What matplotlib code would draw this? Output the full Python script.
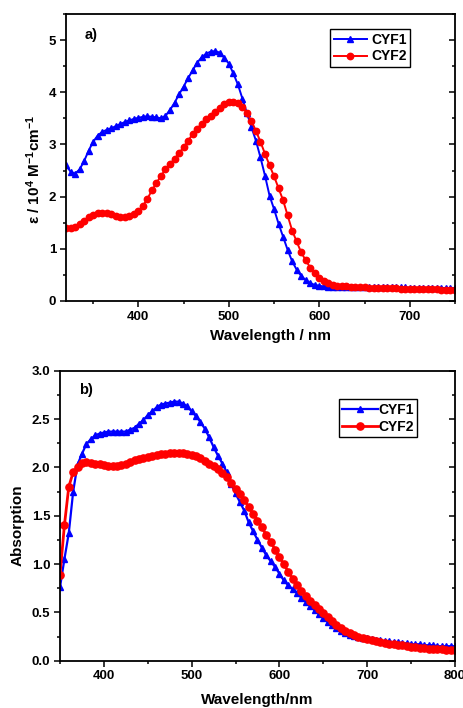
import matplotlib
matplotlib.use("Agg")
import matplotlib.pyplot as plt
from matplotlib.ticker import MultipleLocator, FormatStrFormatter

plt.rcParams["font.family"] = ["Liberation Sans", "DejaVu Sans"]
plt.rcParams["font.weight"] = "bold"
plt.rcParams["mathtext.fontset"] = "custom"
plt.rcParams["mathtext.bf"] = "Liberation Sans:bold"
plt.rcParams["mathtext.rm"] = "Liberation Sans:bold"
plt.rcParams["mathtext.default"] = "bf"

# --------------------------------------------------
#  a) molar absorptivity, 320-750 nm every 5 nm
# --------------------------------------------------
wl_a = list(range(320, 751, 5))

cyf1_a = [
    2.60, 2.48, 2.44, 2.52, 2.68, 2.88, 3.05, 3.17, 3.24, 3.28,
    3.31, 3.35, 3.39, 3.43, 3.46, 3.49, 3.51, 3.53, 3.54, 3.53,
    3.52, 3.50, 3.55, 3.66, 3.80, 3.96, 4.11, 4.27, 4.42, 4.57,
    4.67, 4.74, 4.78, 4.79, 4.76, 4.66, 4.55, 4.36, 4.15, 3.88,
    3.60, 3.33, 3.07, 2.75, 2.40, 2.02, 1.76, 1.48, 1.23, 0.98,
    0.76, 0.60, 0.48, 0.40, 0.34, 0.31, 0.29, 0.28, 0.27, 0.27,
    0.27, 0.27, 0.27, 0.27, 0.27, 0.27, 0.26, 0.26, 0.26, 0.26,
    0.26, 0.26, 0.26, 0.26, 0.26, 0.26, 0.25, 0.25, 0.25, 0.25,
    0.25, 0.25, 0.25, 0.25, 0.25, 0.25, 0.25,
]

cyf2_a = [
    1.39, 1.40, 1.42, 1.47, 1.53, 1.60, 1.65, 1.68, 1.69, 1.68,
    1.66, 1.63, 1.61, 1.60, 1.62, 1.66, 1.72, 1.82, 1.96, 2.12,
    2.26, 2.40, 2.52, 2.62, 2.73, 2.83, 2.95, 3.07, 3.20, 3.30,
    3.40, 3.48, 3.55, 3.63, 3.70, 3.77, 3.81, 3.82, 3.79, 3.72,
    3.60, 3.45, 3.26, 3.05, 2.82, 2.60, 2.39, 2.16, 1.93, 1.64,
    1.35, 1.14, 0.93, 0.78, 0.64, 0.53, 0.44, 0.38, 0.34, 0.31,
    0.29, 0.28, 0.28, 0.27, 0.27, 0.26, 0.26, 0.25, 0.25, 0.25,
    0.24, 0.24, 0.24, 0.24, 0.23, 0.23, 0.23, 0.23, 0.22, 0.22,
    0.22, 0.22, 0.22, 0.21, 0.21, 0.21, 0.21,
]

# --------------------------------------------------
#  b) absorption, 350-800 nm every 5 nm
# --------------------------------------------------
wl_b = list(range(350, 801, 5))

cyf1_b = [
    0.76, 1.05, 1.32, 1.75, 2.03, 2.14, 2.24, 2.29, 2.33, 2.35,
    2.36, 2.37, 2.37, 2.37, 2.37, 2.37, 2.39, 2.41, 2.45, 2.49,
    2.54, 2.58, 2.62, 2.65, 2.66, 2.67, 2.68, 2.68, 2.66, 2.63,
    2.58, 2.53, 2.47, 2.40, 2.31, 2.21, 2.12, 2.04, 1.95, 1.83,
    1.73, 1.64, 1.55, 1.43, 1.34, 1.25, 1.17, 1.09, 1.03, 0.97,
    0.90, 0.83, 0.78, 0.74, 0.70, 0.65, 0.61, 0.57, 0.52, 0.48,
    0.44, 0.40, 0.37, 0.34, 0.31, 0.29, 0.27, 0.26, 0.25, 0.24,
    0.23, 0.22, 0.21, 0.21, 0.20, 0.20, 0.19, 0.19, 0.18, 0.18,
    0.17, 0.17, 0.17, 0.16, 0.16, 0.16, 0.15, 0.15, 0.15, 0.15,
    0.15,
]

cyf2_b = [
    0.89, 1.40, 1.80, 1.95, 2.00, 2.05, 2.06, 2.05, 2.04, 2.03,
    2.02, 2.01, 2.01, 2.01, 2.02, 2.04, 2.06, 2.08, 2.09, 2.10,
    2.11, 2.12, 2.13, 2.14, 2.14, 2.15, 2.15, 2.15, 2.15, 2.14,
    2.13, 2.12, 2.10, 2.07, 2.04, 2.01, 1.98, 1.94, 1.90, 1.84,
    1.78, 1.72, 1.66, 1.59, 1.52, 1.45, 1.38, 1.30, 1.23, 1.15,
    1.07, 1.00, 0.92, 0.85, 0.78, 0.72, 0.67, 0.62, 0.58, 0.53,
    0.49, 0.45, 0.41, 0.37, 0.34, 0.31, 0.29, 0.27, 0.25, 0.23,
    0.22, 0.21, 0.20, 0.19, 0.18, 0.17, 0.17, 0.16, 0.16, 0.15,
    0.14, 0.14, 0.13, 0.13, 0.12, 0.12, 0.12, 0.12, 0.11, 0.11,
    0.11,
]

BLUE = "#0000ff"
RED = "#ff0000"


def style_axes(ax):
    for sp in ax.spines.values():
        sp.set_linewidth(1.3)
    ax.tick_params(which="both", direction="out", labelsize=9.5, width=1.1, pad=3)
    ax.tick_params(which="major", length=4)
    ax.tick_params(which="minor", length=2.5)
    ax.tick_params(which="both", right=True)
    # right side ticks point inward, no labels
    for t in ax.yaxis.get_major_ticks() + ax.yaxis.get_minor_ticks():
        t.tick2line.set_marker(matplotlib.lines.TICKLEFT)
    for lab in ax.get_xticklabels() + ax.get_yticklabels():
        lab.set_fontweight("bold")


fig = plt.figure(figsize=(4.63, 7.08), dpi=100)

# ----- panel a -----
ax1 = fig.add_axes([0.1425, 0.5749, 0.8402, 0.4053])
ax1.plot(wl_a, cyf1_a, color=BLUE, marker="^", markersize=4.2, linewidth=1.4, label="CYF1")
ax1.plot(wl_a, cyf2_a, color=RED, marker="o", markersize=4.6, linewidth=1.4, label="CYF2")
ax1.set_xlim(320, 750)
ax1.set_ylim(0, 5.5)
ax1.xaxis.set_major_locator(MultipleLocator(100))
ax1.xaxis.set_minor_locator(MultipleLocator(50))
ax1.yaxis.set_major_locator(MultipleLocator(1))
ax1.yaxis.set_minor_locator(MultipleLocator(0.5))
ax1.yaxis.set_major_formatter(FormatStrFormatter("%d"))
style_axes(ax1)
ax1.set_xlabel("Wavelength / nm", fontsize=11, fontweight="bold")
ax1.set_ylabel(r"ε / 10$^{4}$ M$^{-1}$cm$^{-1}$", fontsize=11, fontweight="bold")
ax1.xaxis.set_label_coords(0.526, -0.098)
ax1.yaxis.set_label_coords(-0.058, 0.46)
ax1.text(0.049, 0.927, "a)", transform=ax1.transAxes, fontsize=10.5,
         fontweight="bold", ha="left", va="center")
leg1 = ax1.legend(loc="upper left", bbox_to_anchor=(0.679, 0.947), fontsize=10,
                  frameon=True, fancybox=False, edgecolor="black", framealpha=1,
                  handlelength=2.4, handletextpad=0.3, borderpad=0.25,
                  labelspacing=0.2, borderaxespad=0, markerscale=1.0)
leg1.get_frame().set_linewidth(1.0)
for t in leg1.get_texts():
    t.set_fontweight("bold")

# ----- panel b -----
ax2 = fig.add_axes([0.1296, 0.0668, 0.8531, 0.4096])
ax2.plot(wl_b, cyf1_b, color=BLUE, marker="^", markersize=4.6, linewidth=1.6, label="CYF1")
ax2.plot(wl_b, cyf2_b, color=RED, marker="o", markersize=5.2, linewidth=2.0, label="CYF2")
ax2.set_xlim(350, 800)
ax2.set_ylim(0, 3.0)
ax2.xaxis.set_major_locator(MultipleLocator(100))
ax2.xaxis.set_minor_locator(MultipleLocator(50))
ax2.yaxis.set_major_locator(MultipleLocator(0.5))
ax2.yaxis.set_minor_locator(MultipleLocator(0.25))
ax2.yaxis.set_major_formatter(FormatStrFormatter("%.1f"))
style_axes(ax2)
ax2.set_xlabel("Wavelength/nm", fontsize=11, fontweight="bold")
ax2.set_ylabel("Absorption", fontsize=11, fontweight="bold")
ax2.xaxis.set_label_coords(0.499, -0.112)
ax2.yaxis.set_label_coords(-0.09, 0.468)
ax2.text(0.048, 0.933, "b)", transform=ax2.transAxes, fontsize=10.5,
         fontweight="bold", ha="left", va="center")
leg2 = ax2.legend(loc="upper left", bbox_to_anchor=(0.706, 0.901), fontsize=10,
                  frameon=True, fancybox=False, edgecolor="black", framealpha=1,
                  handlelength=2.6, handletextpad=0.0, borderpad=0.25,
                  labelspacing=0.2, borderaxespad=0)
leg2.get_frame().set_linewidth(1.0)
for t in leg2.get_texts():
    t.set_fontweight("bold")

fig.savefig("out.png", dpi=100)
